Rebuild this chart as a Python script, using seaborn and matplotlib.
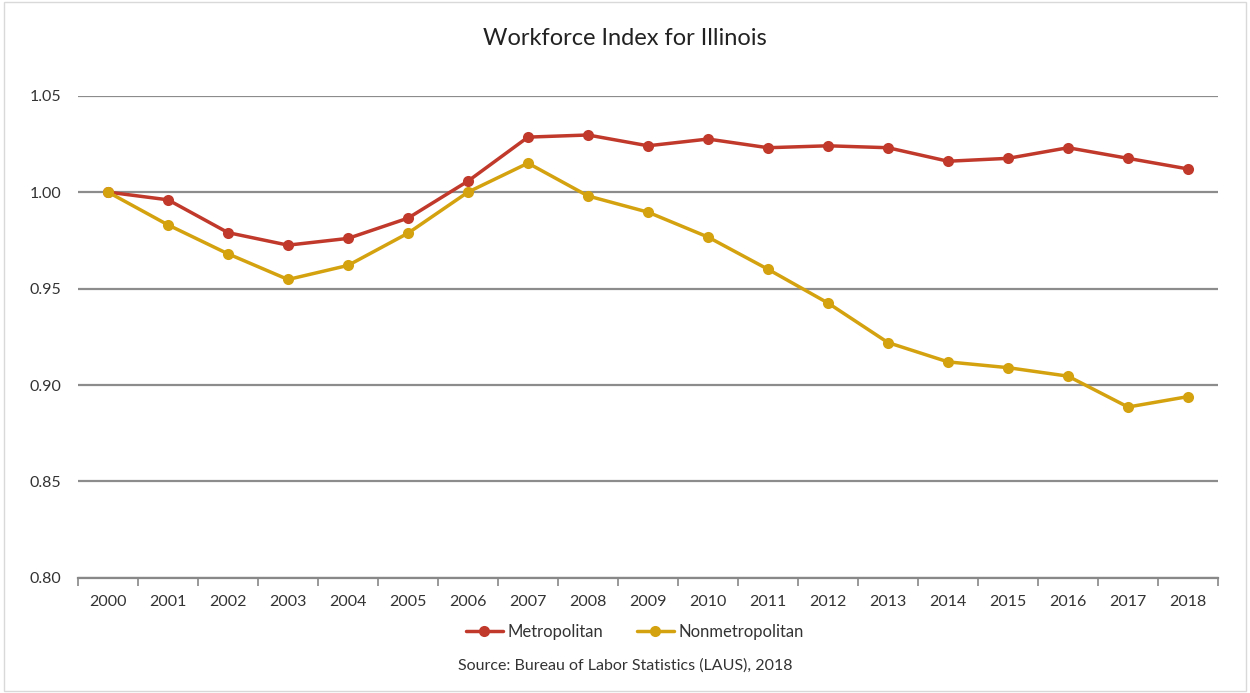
import pandas as pd
import matplotlib.pyplot as plt
import seaborn as sns
from matplotlib.ticker import FixedLocator

# data
years = [str(y) for y in range(2000, 2019)]
metro = [1.000, 0.996, 0.979, 0.9725, 0.976, 0.9865, 1.0057, 1.0285, 1.0296, 1.024,
         1.0275, 1.023, 1.024, 1.023, 1.016, 1.0175, 1.023, 1.0175, 1.012]
nonmetro = [1.000, 0.983, 0.968, 0.9547, 0.962, 0.9787, 1.000, 1.015, 0.998, 0.9896,
            0.9767, 0.960, 0.9425, 0.922, 0.912, 0.909, 0.9046, 0.8886, 0.894]
series_names = ['Metropolitan', 'Nonmetropolitan']
colors = ['#C0392B', '#D4A20F']

# build a long dataframe for seaborn
pos = list(range(len(years)))
df = pd.DataFrame({
    'pos': pos * 2,
    'value': metro + nonmetro,
    'series': [series_names[0]] * len(years) + [series_names[1]] * len(years),
})

sns.set_style('white')
plt.rcParams['font.family'] = ['Lato', 'DejaVu Sans']

fig = plt.figure(figsize=(12.5, 6.93), dpi=100)
ax = fig.add_axes([0.0624, 0.166, 0.912, 0.696])

sns.lineplot(data=df, x='pos', y='value', hue='series', palette=colors,
             marker='o', markersize=8, markeredgewidth=0, linewidth=2.5,
             ax=ax, legend=False)

# axis setup
ax.set_ylim(0.80, 1.05)
ax.set_yticks([0.80, 0.85, 0.90, 0.95, 1.00, 1.05])
ax.set_yticklabels([f'{v:.2f}' for v in [0.80, 0.85, 0.90, 0.95, 1.00, 1.05]])
ax.set_xlim(-0.5, len(years) - 0.5)
ax.set_xticks(pos)
ax.set_xticklabels(years)
ax.xaxis.set_minor_locator(FixedLocator([p - 0.5 for p in pos] + [len(years) - 0.5]))
ax.tick_params(axis='x', which='major', bottom=True, length=0, labelsize=11.5,
               colors='#333333', pad=12)
ax.tick_params(axis='x', which='minor', bottom=True, length=6, width=1.2,
               color='#888888', direction='out')
ax.tick_params(axis='y', length=0, labelsize=11.5, colors='#333333', pad=12)
ax.set_xlabel('')
ax.set_ylabel('')

# gridlines
ax.yaxis.grid(True, color='#8c8c8c', linewidth=1.6)
ax.set_axisbelow(True)
for side in ['top', 'left', 'right']:
    ax.spines[side].set_visible(False)
ax.spines['bottom'].set_color('#888888')
ax.spines['bottom'].set_linewidth(1.6)

# title
fig.text(0.5, 0.945, 'Workforce Index for Illinois', ha='center', va='center',
         fontsize=17, color='#222222')

# legend below the axes
handles = [plt.Line2D([0], [0], color=c, marker='o', markersize=8, linewidth=2.5,
                      markeredgewidth=0) for c in colors]
fig.legend(handles, series_names, loc='center', bbox_to_anchor=(0.508, 0.088),
           ncol=2, frameon=False, fontsize=12, handlelength=2.2, columnspacing=2.0,
           handletextpad=0.3, labelcolor='#333333')

# source note
fig.text(0.5, 0.04, 'Source: Bureau of Labor Statistics (LAUS), 2018', ha='center',
         va='center', fontsize=11.5, color='#333333')

# light frame around the figure
fig.patches.append(plt.Rectangle((0.003, 0.003), 0.994, 0.994, transform=fig.transFigure,
                                 fill=False, edgecolor='#d9d9d9', linewidth=1))

fig.savefig('out.png', dpi=100)
